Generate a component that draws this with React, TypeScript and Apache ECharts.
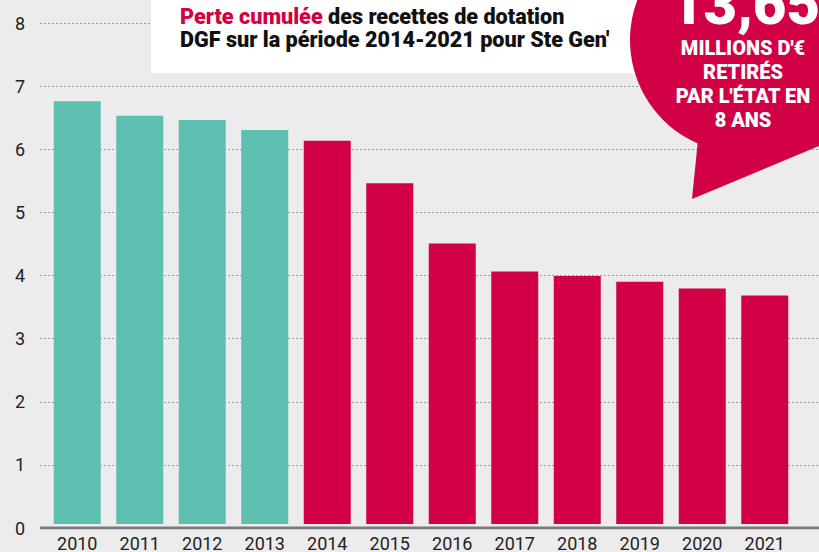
import React, { useEffect, useRef } from "react";
import * as echarts from "echarts";

const years = ["2010", "2011", "2012", "2013", "2014", "2015", "2016", "2017", "2018", "2019", "2020", "2021"];
const dotation = [6.75, 6.52, 6.45, 6.29, 6.12, 5.44, 4.48, 4.03, 3.96, 3.87, 3.76, 3.65];
const yTicks = [0, 1, 2, 3, 4, 5, 6, 7, 8];
const lossStartYear = 2014;

const TEAL = "#5dbfb0";
const RED = "#d20045";
const FONT = "Roboto, 'Noto Sans', sans-serif";

export default function App() {
  const ref = useRef<HTMLDivElement>(null);
  useEffect(() => {
    if (!ref.current) return;
    const chart = echarts.init(ref.current, null, { renderer: "svg" });
    const top = 23;
    const bottom = 24;
    chart.setOption({
      animation: false,
      backgroundColor: "#ececec",
      textStyle: { fontFamily: FONT },
      grid: [
        { left: 40, right: 0, top, bottom },
        { left: 46, right: 23, top, bottom },
      ],
      xAxis: [
        {
          gridIndex: 0,
          type: "value",
          min: 0,
          max: 1,
          axisLabel: { show: false },
          axisTick: { show: false },
          splitLine: { show: false },
          axisLine: { show: false },
        },
        {
          gridIndex: 1,
          type: "category",
          data: years,
          axisTick: { show: false },
          axisLine: { show: false },
          axisLabel: { color: "#222", fontSize: 18, margin: 10, fontFamily: FONT },
        },
      ],
      yAxis: [
        {
          gridIndex: 0,
          type: "value",
          min: yTicks[0],
          max: yTicks[yTicks.length - 1],
          interval: 1,
          axisLine: { show: false },
          axisTick: { show: false },
          axisLabel: { color: "#222", fontSize: 18, margin: 15, fontFamily: FONT },
          splitLine: { lineStyle: { color: "#9a9a9a", type: [2, 2], width: 1 } },
        },
        {
          gridIndex: 1,
          type: "value",
          min: yTicks[0],
          max: yTicks[yTicks.length - 1],
          interval: 1,
          show: false,
        },
      ],
      series: [
        {
          type: "line",
          xAxisIndex: 0,
          yAxisIndex: 0,
          data: [[0, 0], [1, 0]],
          symbol: "none",
          lineStyle: { color: "#7a7a80", width: 3 },
          z: 1,
          silent: true,
        },
        {
          type: "bar",
          xAxisIndex: 1,
          yAxisIndex: 1,
          barWidth: 47,
          z: 2,
          data: dotation.map((v, i) => ({
            value: v,
            itemStyle: { color: Number(years[i]) >= lossStartYear ? RED : TEAL },
          })),
        },
      ],
      graphic: [
        {
          type: "rect",
          shape: { x: 151, y: -10, width: 500, height: 83 },
          style: { fill: "#ffffff" },
          z: 10,
        },
        {
          type: "text",
          x: 180,
          y: 5,
          z: 11,
          style: {
            text: "{r|Perte cumulée} des recettes de dotation\nDGF sur la période 2014-2021 pour Ste Gen'",
            font: `900 21.6px ${FONT}`,
            fill: "#111",
            lineHeight: 23,
            rich: {
              r: { fill: RED, font: `900 21.6px ${FONT}` },
            },
          },
        },
        {
          type: "polygon",
          shape: { points: [[700, 120], [692, 199], [819, 146], [819, 90], [760, 90]] },
          style: { fill: RED },
          z: 12,
        },
        {
          type: "circle",
          shape: { cx: 743, cy: 40, r: 113 },
          style: { fill: RED },
          z: 12,
        },
        {
          type: "text",
          x: 745,
          y: 4,
          z: 13,
          style: {
            text: "13,65",
            font: `900 58px ${FONT}`,
            fill: "#fff",
            align: "center",
            verticalAlign: "middle",
          },
        },
        {
          type: "text",
          x: 743,
          y: 36,
          z: 13,
          style: {
            text: "MILLIONS D'€\nRETIRÉS\nPAR L'ÉTAT EN\n8 ANS",
            font: `900 20px ${FONT}`,
            fill: "#fff",
            align: "center",
            lineHeight: 24,
          },
        },
      ],
    });
    return () => chart.dispose();
  }, []);
  return (
    <div
      ref={ref}
      style={{ position: "fixed", left: 0, top: 0, width: 819, height: 552 }}
    />
  );
}
